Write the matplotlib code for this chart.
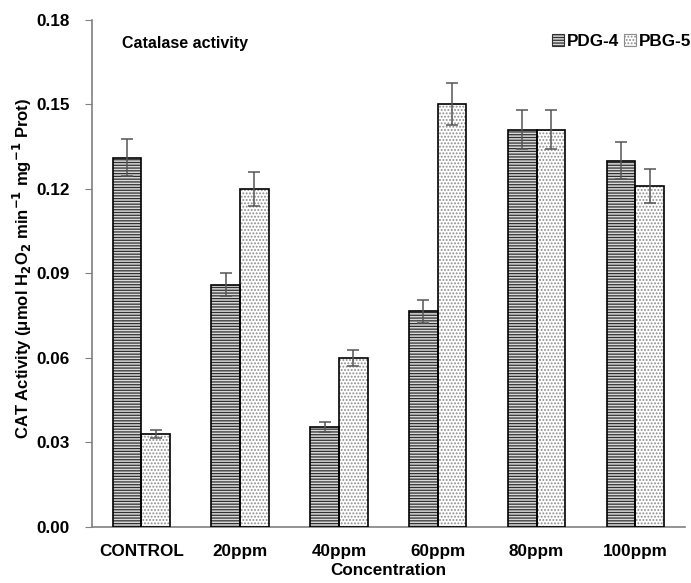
import numpy as np
import matplotlib
matplotlib.use("Agg")
import matplotlib.pyplot as plt
from matplotlib.patches import Patch

categories = ["CONTROL", "20ppm", "40ppm", "60ppm", "80ppm", "100ppm"]
pdg4 = [0.131, 0.086, 0.0355, 0.0765, 0.141, 0.130]
pdg4_err = [0.0066, 0.004, 0.0018, 0.004, 0.007, 0.0065]
pbg5 = [0.033, 0.120, 0.060, 0.150, 0.141, 0.121]
pbg5_err = [0.0015, 0.006, 0.003, 0.0075, 0.007, 0.006]
yticks = [0.00, 0.03, 0.06, 0.09, 0.12, 0.15, 0.18]

plt.rcParams['font.family'] = ['Liberation Sans', 'DejaVu Sans']
plt.rcParams['font.weight'] = 'bold'
plt.rcParams['hatch.linewidth'] = 0.9

fig = plt.figure(figsize=(6.91, 5.83), dpi=100)
ax = fig.add_axes([0.133, 0.096, 0.858, 0.870])

x = np.arange(len(categories))
w = 0.29

# hatch layer (gray), then black outline on top
ax.bar(x - w / 2, pdg4, w, color='#d9d9d9', edgecolor='#303030', hatch='------', linewidth=0, zorder=2)
ax.bar(x + w / 2, pbg5, w, color='white', edgecolor='#8c8c8c', hatch='.....', linewidth=0, zorder=2)
ax.bar(x - w / 2, pdg4, w, fill=False, edgecolor='black', linewidth=1.2, zorder=3)
ax.bar(x + w / 2, pbg5, w, fill=False, edgecolor='black', linewidth=1.2, zorder=3)

ax.errorbar(x - w / 2, pdg4, yerr=pdg4_err, fmt='none', ecolor='#555555', elinewidth=1.1, capsize=4, capthick=1.1, zorder=4)
ax.errorbar(x + w / 2, pbg5, yerr=pbg5_err, fmt='none', ecolor='#555555', elinewidth=1.1, capsize=4, capthick=1.1, zorder=4)

ax.set_xlim(-0.5, 5.5)
ax.set_ylim(0, 0.18)
ax.set_yticks(yticks)
ax.set_yticklabels([f"{v:.2f}" for v in yticks], fontsize=12.3, fontweight='bold')
ax.set_xticks(x)
ax.set_xticklabels(categories, fontsize=12.3, fontweight='bold')
ax.tick_params(axis='x', length=0, pad=12)
ax.tick_params(axis='y', direction='out', length=5, color='#808080', pad=11)

for s in ['top', 'right']:
    ax.spines[s].set_visible(False)
for s in ['left', 'bottom']:
    ax.spines[s].set_color('#808080')
    ax.spines[s].set_linewidth(1.2)

ax.set_xlabel("Concentration", fontsize=12.3, fontweight='bold', labelpad=3)
ax.set_ylabel("CAT Activity (\u03bcmol H$_\\mathbf{2}$O$_\\mathbf{2}$ min$^\\mathbf{-1}$ mg$^\\mathbf{-1}$ Prot)",
              fontsize=12, fontweight='bold')
ax.yaxis.set_label_coords(-0.098, 0.51)

ax.text(0.05, 0.968, "Catalase activity", transform=ax.transAxes, fontsize=11.5,
        fontweight='bold', va='top', ha='left')

handles = [Patch(facecolor='#d9d9d9', edgecolor='#303030', hatch='------', linewidth=0.8),
           Patch(facecolor='white', edgecolor='#8c8c8c', hatch='.....', linewidth=0.8)]
leg = ax.legend(handles, ["PDG-4", "PBG-5"], loc='upper right', ncol=2, frameon=False,
                bbox_to_anchor=(1.022, 0.985), handlelength=0.7, handleheight=0.7,
                handletextpad=0.15, columnspacing=0.3, borderaxespad=0,
                prop={'size': 12.3, 'weight': 'bold'})

fig.savefig("out.png", dpi=100)
